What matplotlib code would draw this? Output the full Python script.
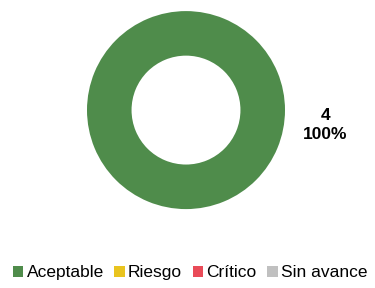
import matplotlib.pyplot as plt
from matplotlib.patches import Patch

categories = ["Aceptable", "Riesgo", "Crítico", "Sin avance"]
counts = [4, 0, 0, 0]
colors = ["#4F8C4B", "#E9C41F", "#E94B58", "#C0C0C0"]

plt.rcParams["font.family"] = ["Liberation Sans", "DejaVu Sans"]

fig = plt.figure(figsize=(3.75, 2.88), dpi=100)
ax = fig.add_axes([0.232, 0.274, 0.528, 0.6875])

total = sum(counts)
vals = [v for v in counts if v > 0]
cols = [c for v, c in zip(counts, colors) if v > 0]
wedges, _ = ax.pie(vals, colors=cols, radius=1.0, startangle=90,
                   wedgeprops=dict(width=0.45, edgecolor="none"))
ax.set_xlim(-1, 1)
ax.set_ylim(-1, 1)
ax.set_aspect("equal")

for v in vals:
    ax.text(1.41, -0.15, f"{v}\n{v / total * 100:.0f}%", ha="center", va="center",
            fontsize=12.5, fontweight="bold", linespacing=1.4)

handles = [Patch(facecolor=c, edgecolor="none", label=l) for l, c in zip(categories, colors)]
fig.legend(handles=handles, loc="center", bbox_to_anchor=(0.507, 0.053), ncol=4,
           frameon=False, fontsize=12.5, handlelength=0.6, handleheight=0.6,
           handletextpad=0.2, columnspacing=0.6, borderpad=0)

fig.savefig("out.png", dpi=100)
